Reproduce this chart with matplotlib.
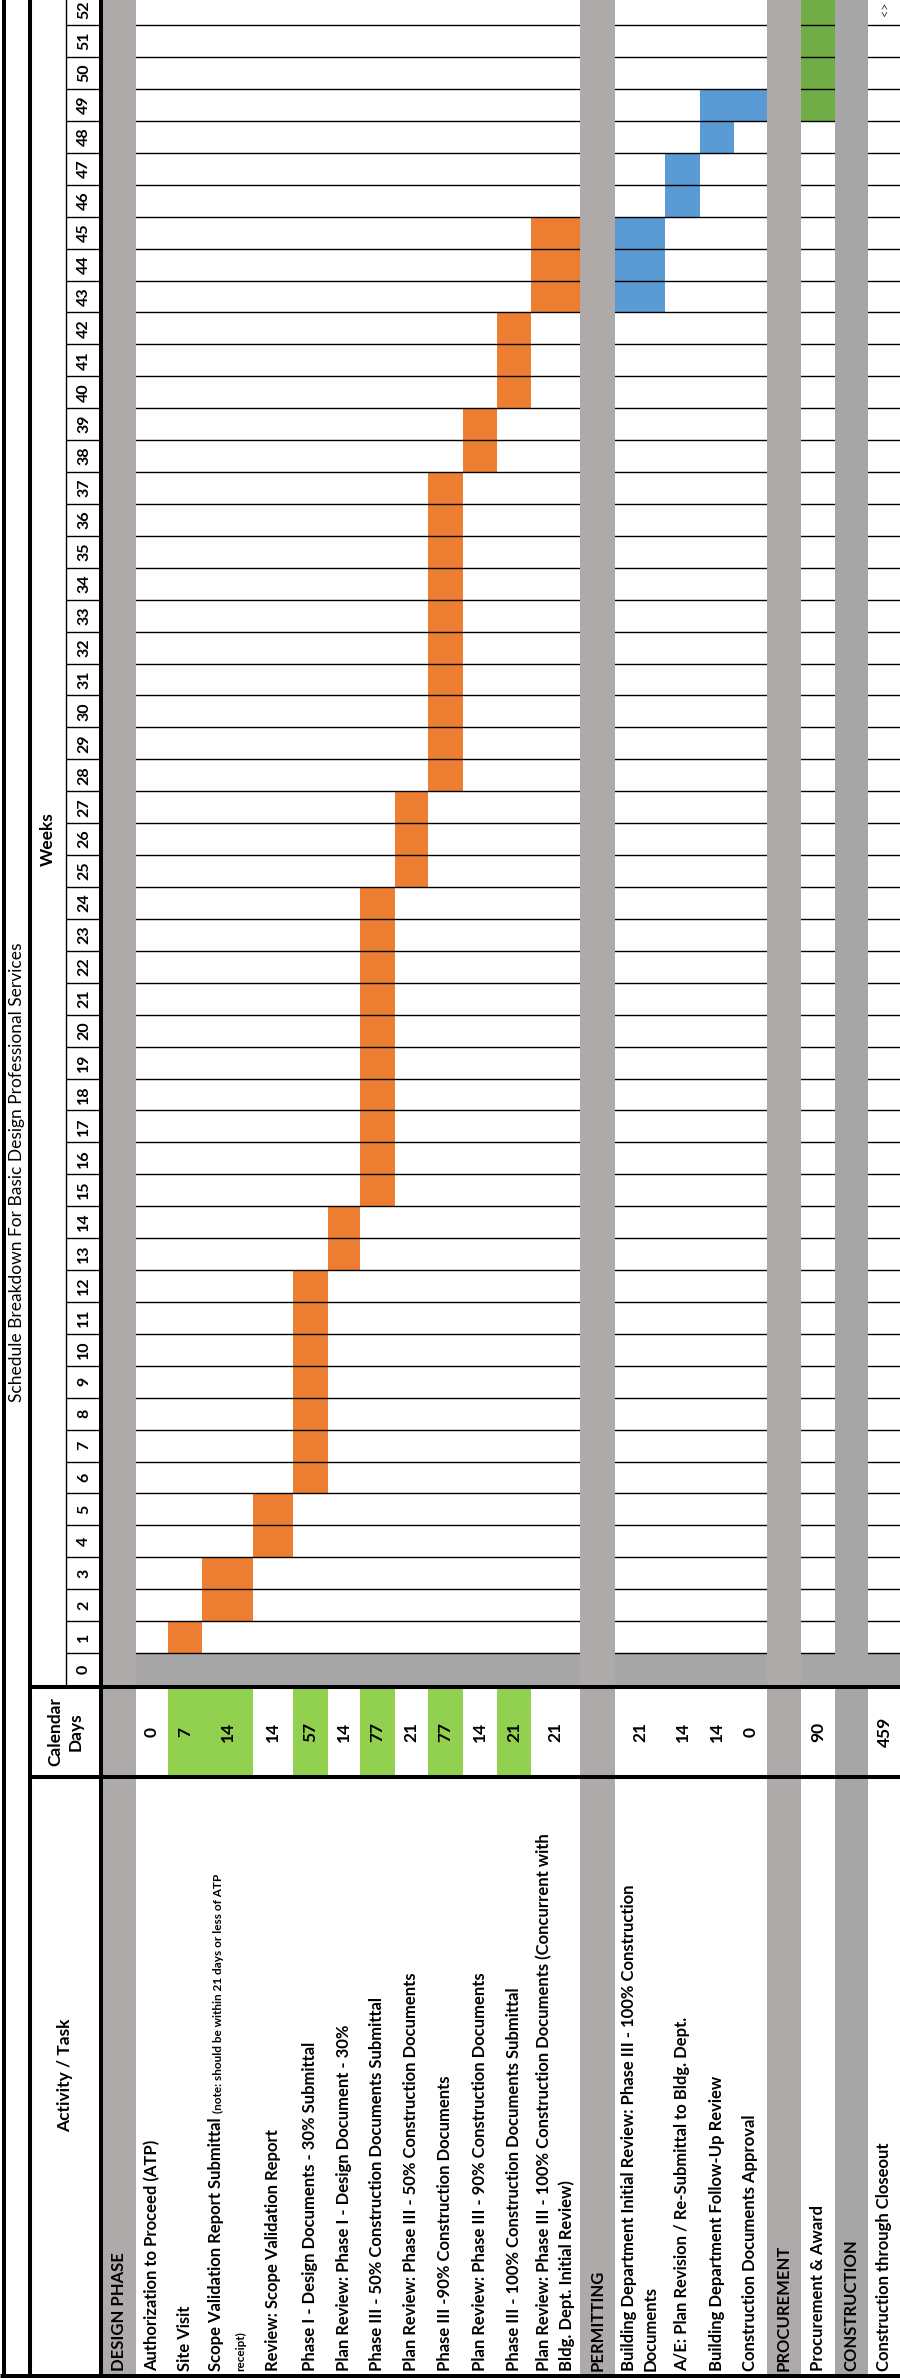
import matplotlib
matplotlib.use("Agg")
import matplotlib.pyplot as plt
from matplotlib.patches import Rectangle

plt.rcParams['font.family'] = ['Lato', 'DejaVu Sans']

# ---- data ----
row_labels = [
    "DESIGN PHASE",
    "Authorization to Proceed (ATP)",
    "Site Visit",
    "Scope Validation Report Submittal",
    "Review: Scope Validation Report",
    "Phase I - Design Documents - 30% Submittal",
    "Plan Review: Phase I - Design Document - 30%",
    "Phase III - 50% Construction Documents Submittal",
    "Plan Review: Phase III - 50% Construction Documents",
    "Phase III -90% Construction Documents",
    "Plan Review: Phase III - 90% Construction Documents",
    "Phase III - 100% Construction Documents Submittal",
    "Plan Review: Phase III - 100% Construction Documents (Concurrent with\nBldg. Dept. Initial Review)",
    "PERMITTING",
    "Building Department Initial Review: Phase III - 100% Construction\nDocuments",
    "A/E: Plan Revision / Re-Submittal to Bldg. Dept.",
    "Building Department Follow-Up Review",
    "Construction Documents Approval",
    "PROCUREMENT",
    "Procurement & Award",
    "CONSTRUCTION",
    "Construction through Closeout",
]
is_section = [True, False, False, False, False, False, False, False, False, False, False,
              False, False, True, False, False, False, False, True, False, True, False]
calendar_days = ["", "0", "7", "14", "14", "57", "14", "77", "21", "77", "14", "21", "21",
                 "", "21", "14", "14", "0", "", "90", "", "459"]
days_green = [False, False, True, True, False, True, False, True, False, True, False, True,
              False, False, False, False, False, False, False, False, False, False]
bar_start = [None, None, 1, 2, 4, 6, 13, 15, 25, 28, 38, 40, 43,
             None, 43, 46, 48, 49, None, 49, None, None]
bar_end = [None, None, 1, 3, 5, 12, 14, 24, 27, 37, 39, 42, 45,
           None, 45, 47, 49, 49, None, 52, None, None]
bar_phase = ["design"] * 13 + ["permit"] * 5 + ["procure"] * 2 + ["construct"] * 2
scope_note = "(note: should be within 21 days or less of ATP"
scope_note2 = "receipt)"
weeks = list(range(53))
title = "Schedule Breakdown For Basic Design Professional Services"

phase_colors = {"design": "#ED7D31", "permit": "#5B9BD5", "procure": "#70AD47", "construct": "#70AD47"}

# ---- layout (pixels) ----
W, H = 900, 2378
row_px = [33, 32, 34, 51, 40, 35, 32, 35, 33, 35, 34, 34, 49, 35, 50, 35, 34, 33, 34, 34, 33, 33]
x_start = 103
lefts = []
x = x_start
for w in row_px:
    lefts.append(x)
    x += w
wk = 31.92          # pixels per week
y_base = 1685       # bottom of week 0 cell
n_weeks = len(weeks)
sec_grey = "#AEAAAA"
dark_grey = "#A6A6A6"
fs = 12

fig = plt.figure(figsize=(W / 100, H / 100), dpi=100)
ax_top = fig.add_axes([0, (H - y_base) / H, 1, n_weeks * wk / H])
ax_top.set_xlim(0, W)
ax_top.set_ylim(0, n_weeks)
ax_top.axis("off")
ax_bot = fig.add_axes([0, 0, 1, (H - y_base) / H])
ax_bot.set_xlim(0, W)
ax_bot.set_ylim(H, y_base)
ax_bot.axis("off")

# week 0 band
ax_top.add_patch(Rectangle((x_start, 0), W - x_start, 1, color=dark_grey, zorder=1, lw=0))

# gantt bars
for i in range(len(row_labels)):
    if bar_start[i] is None:
        continue
    ax_top.bar(lefts[i], bar_end[i] - bar_start[i] + 1, bottom=bar_start[i], width=row_px[i],
               align="edge", color=phase_colors[bar_phase[i]], lw=0, zorder=1)

# week grid lines
ax_top.hlines(weeks[1:], x_start, W, color="black", lw=1.0, zorder=2)
ax_top.hlines(weeks[1:] + [n_weeks], 66, 101, color="black", lw=1.0, zorder=2)
ax_top.vlines(66, 0, n_weeks, color="black", lw=1.0, zorder=2)

# section columns
for i in range(len(row_labels)):
    if is_section[i]:
        c = dark_grey if row_labels[i] == "CONSTRUCTION" else sec_grey
        ax_top.add_patch(Rectangle((lefts[i], 0), row_px[i], n_weeks, color=c, lw=0, zorder=3))
        ax_bot.add_patch(Rectangle((lefts[i], y_base), row_px[i], H - y_base, color=c, lw=0, zorder=3))

# week numbers
for k in weeks:
    ax_top.text(84, k + 0.5, str(k), rotation=90, ha="center", va="center",
                fontsize=11.5, fontweight="bold", zorder=5)
ax_top.text(48, n_weeks / 2, "Weeks", rotation=90, ha="center", va="center",
            fontsize=12.5, fontweight="bold", zorder=5)

# construction marker at last week
ax_top.text(885, weeks[-1] + 0.5, "<>", rotation=90, ha="center", va="center",
            fontsize=9, color="#404040", zorder=5)

# calendar days column
cal_lo, cal_hi = 1689, 1775
for i in range(len(row_labels)):
    if days_green[i]:
        ax_bot.bar(lefts[i], cal_hi - cal_lo, bottom=cal_lo, width=row_px[i], align="edge",
                   color="#92D050", lw=0, zorder=1)
    if calendar_days[i]:
        ax_bot.text(lefts[i] + row_px[i] / 2, (cal_lo + cal_hi) / 2, calendar_days[i],
                    rotation=90, ha="center", va="center", fontsize=12.5, fontweight="bold", zorder=5)

# activity labels
label_y = 2371
for i in range(len(row_labels)):
    cx = lefts[i] + row_px[i] / 2
    if i == 3:
        t = ax_bot.text(cx - 11, label_y, row_labels[i], rotation=90, ha="center", va="bottom",
                        fontsize=fs, fontweight="bold", zorder=5)
        r = fig.canvas.get_renderer()
        bb = t.get_window_extent(r)
        y_note = ax_bot.transData.inverted().transform((0, bb.y1))[1]
        ax_bot.text(cx - 9.5, y_note - 4, scope_note, rotation=90, ha="center", va="bottom",
                    fontsize=8.5, fontweight="bold", zorder=5)
        ax_bot.text(cx + 13, label_y, scope_note2, rotation=90, ha="center", va="bottom",
                    fontsize=8.5, fontweight="bold", zorder=5)
        continue
    ax_bot.text(cx, label_y, row_labels[i], rotation=90, ha="center", va="bottom",
                multialignment="left", linespacing=1.4,
                fontsize=fs, fontweight="bold", zorder=5)

# headers
ax_bot.text(65.5, (cal_lo + cal_hi) / 2, "Calendar\nDays", rotation=90, ha="center", va="center",
            multialignment="center", linespacing=1.3, fontsize=12.5, fontweight="bold", zorder=5)
ax_bot.text(65.5, 2075, "Activity / Task", rotation=90, ha="center", va="center",
            fontsize=12.5, fontweight="bold", zorder=5)
fig.text(17.5 / W, 1 - 1172 / H, title, rotation=90, ha="center", va="center", fontsize=12.5)

# borders
thick = 2.9
for ax, (lo, hi) in ((ax_top, (0, n_weeks)), (ax_bot, (y_base, H))):
    ax.vlines([4, 30, 101], lo, hi, color="black", lw=thick, zorder=6, clip_on=False)
ax_bot.hlines([1687, 1776.5], 30, W, color="black", lw=thick, zorder=6, clip_on=False)
ax_bot.hlines(2375.5, 0, W, color="black", lw=3.6, zorder=6, clip_on=False)

fig.savefig("out.png", dpi=100)
